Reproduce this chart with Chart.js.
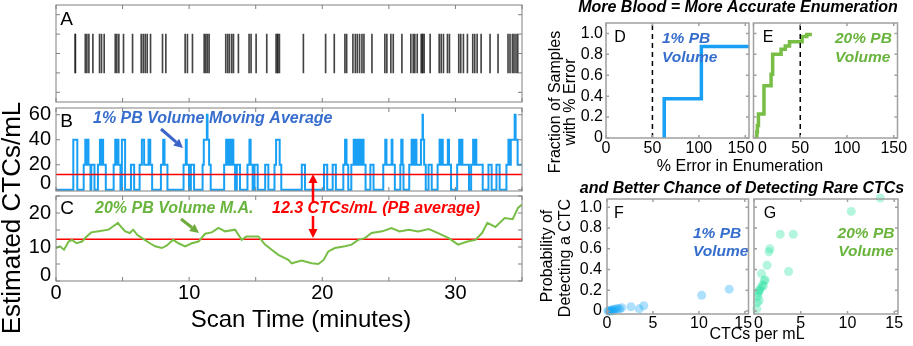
<!DOCTYPE html>
<html>
<head>
<meta charset="utf-8">
<script src="https://cdn.jsdelivr.net/npm/chart.js@4/dist/chart.umd.min.js"></script>
<style>
  body { margin: 0; background: #fff; overflow: hidden; }
  #wrap { position: relative; width: 913px; height: 346px; }
  #wrap canvas { position: absolute; left: 0; top: 0; }
</style>
</head>
<body>
<div id="wrap">
  <canvas id="cA" width="913" height="346"></canvas>
  <canvas id="cB" width="913" height="346"></canvas>
  <canvas id="cC" width="913" height="346"></canvas>
  <canvas id="cD" width="913" height="346"></canvas>
  <canvas id="cE" width="913" height="346"></canvas>
  <canvas id="cF" width="913" height="346"></canvas>
  <canvas id="cG" width="913" height="346"></canvas>
</div>
<script>
// ---- data ----
// A: detection events (minutes), repeated values are the darker double lines
const events = [
  1.45, 1.45, 2.20, 2.32, 2.47, 2.77, 3.27, 3.42, 3.62, 4.45, 4.57, 4.72, 5.07, 5.75,
  6.40, 6.55, 6.70, 6.85, 7.10, 8.00, 8.25, 9.70, 9.87, 10.25, 11.13, 11.25, 11.37, 11.50,
  12.75, 12.90, 13.03, 13.20, 13.33, 13.70, 14.50, 14.65, 15.03, 15.83, 16.53, 16.65, 16.65, 16.78,
  18.58, 20.25, 20.90, 21.70, 21.83, 22.30, 22.48, 22.63, 22.80, 22.98, 23.13, 23.73,
  24.70, 24.85, 25.15, 25.33, 25.98, 26.65, 26.83, 26.95, 27.13, 27.43, 27.53, 27.53, 27.65, 28.10,
  28.78, 28.93, 29.10, 29.40, 29.55, 30.25, 30.40, 30.60, 30.90, 31.30, 31.45, 31.63, 31.93,
  32.60, 33.20, 33.95, 34.10, 34.28, 34.40, 34.55, 34.68
];

// B: 1% PB volume moving average, step change times and new levels
const bTime = [
  0, 1.30, 1.60,
  2.08, 2.20, 2.32, 2.35, 2.44, 2.59, 2.65, 2.89,
  3.15, 3.30, 3.39, 3.50, 3.54, 3.74,
  4.33, 4.45, 4.57, 4.60, 4.69, 4.84, 4.95, 5.19,
  5.63, 5.87, 6.28, 6.45, 6.62, 6.95, 7.08, 7.22,
  7.88, 8.05, 8.15, 8.37, 9.58, 9.75, 9.82, 9.99, 10.13, 10.37,
  11.01, 11.10, 11.33, 11.38, 11.50, 11.62,
  12.63, 12.78, 12.87, 12.91, 13.02, 13.08, 13.15, 13.21, 13.32, 13.45, 13.58, 13.82,
  14.38, 14.53, 14.62, 14.77, 14.91, 15.15, 15.71, 15.95,
  16.41, 16.53, 16.80, 16.92, 18.46, 18.70,
  20.13, 20.37, 20.78, 21.02, 21.58, 21.71, 21.82, 21.95,
  22.18, 22.36, 22.42, 22.51, 22.60, 22.68, 22.75, 22.86, 22.92, 23.01, 23.10, 23.25, 23.61, 23.85,
  24.58, 24.73, 24.82, 25.21, 25.27, 25.45, 25.86, 25.93, 26.03, 26.10,
  26.53, 26.71, 26.77, 26.83, 26.95, 27.01, 27.07, 27.41, 27.53, 27.56, 27.65, 27.77, 27.98, 28.22,
  28.66, 28.81, 28.90, 28.98, 29.05, 29.43, 29.52, 29.67,
  30.13, 30.28, 30.37, 30.48, 30.52, 31.02,
  31.18, 31.33, 31.42, 31.51, 31.57, 32.05,
  32.48, 32.72, 33.08, 33.32,
  33.83, 33.98, 34.07, 34.16, 34.45, 34.52, 34.67, 35
];
const bLevel = [
  0, 40, 0,
  20, 40, 20, 40, 20, 0, 20, 0,
  20, 40, 20, 40, 20, 0,
  20, 40, 20, 40, 20, 0, 40, 0,
  20, 0, 20, 40, 20, 40, 20, 0,
  20, 40, 20, 0, 20, 40, 20, 0, 20, 0,
  20, 40, 60, 40, 20, 0,
  20, 40, 20, 40, 20, 40, 20, 40, 20, 0, 20, 0,
  20, 40, 20, 0, 20, 0, 20, 0,
  20, 40, 20, 0, 20, 0,
  20, 0, 20, 0, 20, 40, 20, 0,
  20, 40, 20, 40, 20, 40, 20, 40, 20, 40, 20, 0, 20, 0,
  20, 40, 20, 40, 20, 0, 20, 40, 20, 0,
  20, 40, 20, 40, 20, 40, 20, 40, 60, 40, 20, 0, 20, 0,
  20, 40, 20, 40, 20, 40, 20, 0,
  20, 40, 20, 40, 20, 0,
  20, 40, 20, 40, 20, 0,
  20, 0, 20, 0,
  20, 40, 20, 40, 60, 40, 20, 20
];

// C: 20% PB volume moving average
const cTime = [
  0, 0.3, 0.6, 0.95, 1.2, 1.55, 1.95, 2.3, 2.65, 3.2,
  3.95, 4.3, 4.65, 4.85, 5.2, 5.55, 5.8, 6.1, 6.55, 7.05,
  7.45, 7.95, 8.3, 8.8, 9.2, 9.7, 10.2, 10.7, 11.2, 11.7,
  12.2, 12.7, 13.45, 13.95, 14.3, 15.2, 15.7, 16.2, 16.7, 17.45,
  17.7, 18.45, 19.2, 19.7, 20.1, 20.45, 20.95, 21.7, 22.2, 22.7,
  23.2, 23.7, 24.5, 25.2, 25.8, 26.5, 27.2, 28.0, 28.7, 29.5,
  30.2, 30.9, 31.5, 32.0, 32.4, 33.0, 33.7, 34.3, 34.7, 35
];
const cValue = [
  9.7, 10.2, 9.2, 11.6, 12.1, 11.1, 11.6, 13.1, 14.3, 14.6,
  15.1, 16.1, 17.1, 16.1, 14.6, 14.1, 15.1, 13.6, 12.4, 11.1,
  10.2, 9.7, 10.4, 12.1, 11.1, 10.2, 11.1, 11.6, 13.9, 14.3,
  15.6, 14.6, 15.1, 12.1, 13.1, 13.1, 10.7, 9.2, 7.7, 6.2,
  5.2, 6.0, 5.2, 5.0, 6.2, 8.7, 9.7, 10.2, 10.7, 12.1,
  12.6, 14.1, 14.6, 15.6, 14.6, 15.1, 14.6, 15.3, 14.1, 12.6,
  10.7, 11.6, 12.1, 14.1, 17.1, 15.9, 18.5, 18.2, 21.5, 22.5
];
const pbAverage = 12.3;

// D / E: cumulative fraction of samples vs % error
const dErr  = [62.7, 62.7, 102.7, 154];
const dFrac = [0, 0.375, 0.875, 0.875];
const eErr  = [3.6, 3.6, 4.2, 5.3, 11.2, 18.8, 20.5, 29.5, 34, 38.5, 52, 57, 62.4];
const eFrac = [0, 0.06, 0.12, 0.23, 0.50, 0.61, 0.80, 0.85, 0.88, 0.92, 0.97, 0.99, 0.99];
const errLimit = 50;

// F / G: probability of detecting a CTC vs CTCs per mL
const fCtc  = [0.1, 0.2, 0.3, 0.4, 0.5, 0.6, 0.7, 0.8, 1.0, 1.2, 1.4, 1.6, 2.6, 3.5, 4.0, 10.3, 13.3];
const fProb = [0.0, 0.0, 0.0, 0.0, 0.01, 0.0, 0.01, 0.01, 0.02, 0.02, 0.02, 0.03, 0.04, 0.02, 0.05, 0.15, 0.21];
const gCtc  = [0.3, 0.35, 0.4, 0.45, 0.5, 0.55, 0.6, 0.7, 0.8, 0.9, 1.0, 1.1, 1.2, 1.4, 1.6, 1.7, 2.8, 3.7, 4.2, 10.4, 13.5];
const gProb = [0.02, 0.08, 0.14, 0.17, 0.19, 0.10, 0.20, 0.22, 0.36, 0.25, 0.24, 0.29, 0.30, 0.44, 0.57, 0.60, 0.74, 0.38, 0.74, 0.96, 1.09];

// tick values
const timeTicks = [0, 5, 10, 15, 20, 25, 30, 35];
const aTicks = [0.1, 0.3, 0.5, 0.7, 0.9];
const bTicks = [0, 20, 40, 60];
const cTicks = [0, 5, 10, 15, 20, 25];
const errTicks = [0, 50, 100, 150];
const fracTicks = [0, 0.2, 0.4, 0.6, 0.8, 1.0];
const ctcTicks = [0, 5, 10, 15];

// ---- drawing ----
const W = 913, H = 346, YW = 50, XH = 30;
const blueLine = 'rgb(25,160,245)', greenLine = 'rgb(120,190,70)', red = 'rgb(255,0,0)';
const blueText = 'rgb(55,110,205)', greenText = 'rgb(105,180,60)';

Chart.defaults.font.family = '"Liberation Sans", Arial, Helvetica, sans-serif';
Chart.defaults.color = '#000';

// box frame with inward tick marks on all four sides
Chart.register({
  id: 'frame',
  defaults: { color: '#808080', width: 1, len: 4 },
  afterDatasetsDraw(chart, args, o) {
    const { ctx, chartArea: a, scales: { x, y } } = chart;
    ctx.save();
    ctx.strokeStyle = o.color;
    ctx.lineWidth = o.width;
    ctx.strokeRect(a.left, a.top, a.right - a.left, a.bottom - a.top);
    ctx.beginPath();
    x.ticks.forEach(tk => {
      const px = x.getPixelForValue(tk.value);
      ctx.moveTo(px, a.bottom); ctx.lineTo(px, a.bottom - o.len);
      ctx.moveTo(px, a.top); ctx.lineTo(px, a.top + o.len);
    });
    y.ticks.forEach(tk => {
      const py = y.getPixelForValue(tk.value);
      ctx.moveTo(a.left, py); ctx.lineTo(a.left + o.len, py);
      ctx.moveTo(a.right, py); ctx.lineTo(a.right - o.len, py);
    });
    ctx.stroke();
    ctx.restore();
  }
});

function axis(min, max, values, o) {
  return {
    type: 'linear', min, max, offset: false,
    grid: { display: false, drawTicks: false }, border: { display: false },
    afterBuildTicks: s => { s.ticks = values.map(v => ({ value: v })); },
    afterFit: s => { if (s.isHorizontal()) s.height = XH; else s.width = YW; },
    ticks: {
      display: !!o.label, autoSkip: false, maxRotation: 0, padding: o.pad || 0,
      font: { size: o.size || 16, lineHeight: o.lh || 1.2 },
      callback: o.label || (() => '')
    }
  };
}

function panel(id, box, xAxis, yAxis, datasets, frame, type, extra) {
  const [l, t, r, b] = box;
  return new Chart(document.getElementById(id), {
    type: type || 'scatter',
    data: { datasets },
    options: {
      responsive: false, animation: false, devicePixelRatio: 1, events: [],
      layout: { padding: { left: l - YW, top: t, right: W - r, bottom: H - b - XH } },
      plugins: { legend: { display: false }, tooltip: { enabled: false }, frame: frame || {} },
      scales: { x: xAxis, y: yAxis }
    },
    plugins: extra || []
  });
}

const pts = (xs, ys) => xs.map((v, i) => ({ x: v, y: ys[i] }));
const flat = (x0, x1, v) => [{ x: x0, y: v }, { x: x1, y: v }];
const line = (data, color, w, more) => Object.assign({ data, showLine: true, borderColor: color, borderWidth: w, pointRadius: 0, fill: false }, more || {});

const timeLabel = v => (v % 10 === 0 && v < 35) ? String(v) : '';
const zeroUp = v => v === 0 ? ['0', ''] : String(v);
const fracLabel = v => v === 0 ? '0' : v.toFixed(1);

// A
panel('cA', [56, 5, 522, 102],
  axis(0, 35, timeTicks, {}),
  axis(0, 1, aTicks, {}),
  [{ data: events.map(t => ({ x: t, y: [0.3, 0.7] })), backgroundColor: 'rgba(35,35,35,0.85)', barThickness: 1, borderWidth: 0 }],
  null, 'bar');

// B
panel('cB', [56, 108, 522, 191],
  axis(0, 35, timeTicks, {}),
  axis(-1, 65.4, bTicks, { label: zeroUp, size: 20, pad: 5, lh: 0.6 }),
  [line(flat(0, 35, pbAverage), red, 1.5, { order: 0 }),
   line(pts(bTime, bLevel), blueLine, 2, { stepped: true, order: 1 })]);

// C
panel('cC', [56, 196, 522, 281],
  axis(0, 35, timeTicks, { label: timeLabel, size: 20, pad: 0 }),
  axis(0, 25, cTicks, { label: v => v % 10 === 0 ? zeroUp(v) : '', size: 20, pad: 5, lh: 0.6 }),
  [line(pts(cTime, cValue), greenLine, 2, { order: 0 }),
   line(flat(0, 35, pbAverage), red, 1.5, { order: 1 })]);

const rightFrame = { color: '#a0a0a0', width: 1.5, len: 3 };

// D
panel('cD', [606, 23, 749, 138],
  axis(0, 154, errTicks, { label: v => v === 150 ? '150\u2007' : String(v), pad: 1 }),
  axis(0, 1.1, fracTicks, { label: fracLabel, pad: 3 }),
  [line([{ x: errLimit, y: 0 }, { x: errLimit, y: 1.1 }], '#000', 1.5, { borderDash: [5, 4] }),
   line(pts(dErr, dFrac), blueLine, 3.5, { stepped: true })],
  rightFrame);

// E
panel('cE', [753.5, 23, 897.5, 138],
  axis(0, 154, errTicks, { label: v => v === 0 ? '\u2007\u20070' : String(v), pad: 1 }),
  axis(0, 1.1, fracTicks, {}),
  [line([{ x: errLimit, y: 0 }, { x: errLimit, y: 1.1 }], '#000', 1.5, { borderDash: [5, 4] }),
   line(pts(eErr, eFrac), greenLine, 3.5, { stepped: true })],
  rightFrame);

// F
panel('cF', [607, 199, 748.5, 314],
  axis(0, 15.4, ctcTicks, { label: v => v === 15 ? '15\u2009' : String(v), pad: 0 }),
  axis(-0.03, 1.08, fracTicks, { label: fracLabel, pad: 5 }),
  [{ data: pts(fCtc, fProb), pointRadius: 4.5, backgroundColor: 'rgba(20,165,245,0.35)', borderWidth: 0, clip: false }],
  rightFrame);

// annotation texts and arrows
const notes = [
  { t: 'A', x: 66.5, y: 20, f: '19px' },
  { t: 'B', x: 66.5, y: 122, f: '19px' },
  { t: 'C', x: 67, y: 209, f: '19px' },
  { t: '1% PB Volume Moving Average', x: 93, y: 119, f: 'italic bold 16px', c: blueText, a: 'left' },
  { t: '20% PB Volume M.A.', x: 95, y: 209, f: 'italic bold 16px', c: greenText, a: 'left' },
  { t: '12.3 CTCs/mL (PB average)', x: 272, y: 209, f: 'italic bold 16px', c: red, a: 'left' },
  { t: 'Scan Time (minutes)', x: 301, y: 320, f: '24px' },
  { t: 'Estimated CTCs/mL', x: 13, y: 218, f: '26px', r: true },
  { t: 'More Blood = More Accurate Enumeration', x: 738, y: 8, f: 'italic bold 16px' },
  { t: 'and Better Chance of Detecting Rare CTCs', x: 742, y: 188.5, f: 'italic bold 16px' },
  { t: 'D', x: 620, y: 37.5, f: '16px' },
  { t: 'E', x: 768, y: 37.5, f: '16px' },
  { t: 'F', x: 619, y: 213.5, f: '16px' },
  { t: 'G', x: 770, y: 213.5, f: '16px' },
  { t: '1% PB', x: 662, y: 38.5, f: 'italic bold 15.5px', c: blueText, a: 'left' },
  { t: 'Volume', x: 662, y: 57.5, f: 'italic bold 15.5px', c: blueText, a: 'left' },
  { t: '20% PB', x: 835, y: 38.5, f: 'italic bold 15.5px', c: greenText, a: 'left' },
  { t: 'Volume', x: 835, y: 57.5, f: 'italic bold 15.5px', c: greenText, a: 'left' },
  { t: '1% PB', x: 693, y: 233.5, f: 'italic bold 15.5px', c: blueText, a: 'left' },
  { t: 'Volume', x: 693, y: 252, f: 'italic bold 15.5px', c: blueText, a: 'left' },
  { t: '20% PB', x: 866, y: 233.5, f: 'italic bold 15.5px', c: greenText },
  { t: 'Volume', x: 866, y: 252, f: 'italic bold 15.5px', c: greenText },
  { t: 'Fraction of Samples', x: 556, y: 102, f: '16px', r: true },
  { t: 'with % Error', x: 571, y: 102, f: '16px', r: true },
  { t: '% Error in Enumeration', x: 740, y: 167, f: '16px' },
  { t: 'Probability of', x: 548, y: 256, f: '16px', r: true },
  { t: 'Detecting a CTC', x: 566, y: 258, f: '16px', r: true },
  { t: 'CTCs per mL', x: 757, y: 335, f: '16px' }
];
const arrows = [
  { x1: 161, y1: 129, x2: 183, y2: 148, c: 'rgb(60,100,200)', w: 3, h: 9 },
  { x1: 181, y1: 219, x2: 199, y2: 233, c: 'rgb(110,170,60)', w: 3, h: 9 },
  { x1: 313, y1: 203, x2: 313, y2: 174, c: red, w: 2.5, h: 9 },
  { x1: 313, y1: 216, x2: 313, y2: 238, c: red, w: 2.5, h: 9 }
];

const notesPlugin = {
  id: 'notes',
  afterDraw(chart) {
    const ctx = chart.ctx;
    ctx.save();
    ctx.textBaseline = 'middle';
    notes.forEach(n => {
      ctx.save();
      ctx.font = n.f + ' "Liberation Sans", Arial, sans-serif';
      ctx.fillStyle = n.c || '#000';
      ctx.textAlign = n.a || 'center';
      ctx.translate(n.x, n.y);
      if (n.r) ctx.rotate(-Math.PI / 2);
      ctx.fillText(n.t, 0, 0);
      ctx.restore();
    });
    arrows.forEach(a => {
      const ang = Math.atan2(a.y2 - a.y1, a.x2 - a.x1);
      const bx = a.x2 - a.h * Math.cos(ang), by = a.y2 - a.h * Math.sin(ang);
      const hw = a.h * 0.5;
      ctx.strokeStyle = ctx.fillStyle = a.c;
      ctx.lineWidth = a.w;
      ctx.beginPath(); ctx.moveTo(a.x1, a.y1); ctx.lineTo(bx, by); ctx.stroke();
      ctx.beginPath();
      ctx.moveTo(a.x2, a.y2);
      ctx.lineTo(bx + hw * Math.sin(ang), by - hw * Math.cos(ang));
      ctx.lineTo(bx - hw * Math.sin(ang), by + hw * Math.cos(ang));
      ctx.closePath(); ctx.fill();
    });
    ctx.restore();
  }
};

// G (also carries the annotations)
panel('cG', [754, 199, 898, 314],
  axis(0, 15.4, ctcTicks, { label: v => v === 0 ? '\u20070' : String(v), pad: 0 }),
  axis(-0.03, 1.08, fracTicks, {}),
  [{ data: pts(gCtc, gProb), pointRadius: 4.5, backgroundColor: 'rgba(40,225,160,0.35)', borderWidth: 0, clip: false }],
  rightFrame, 'scatter', [notesPlugin]);
</script>
</body>
</html>
